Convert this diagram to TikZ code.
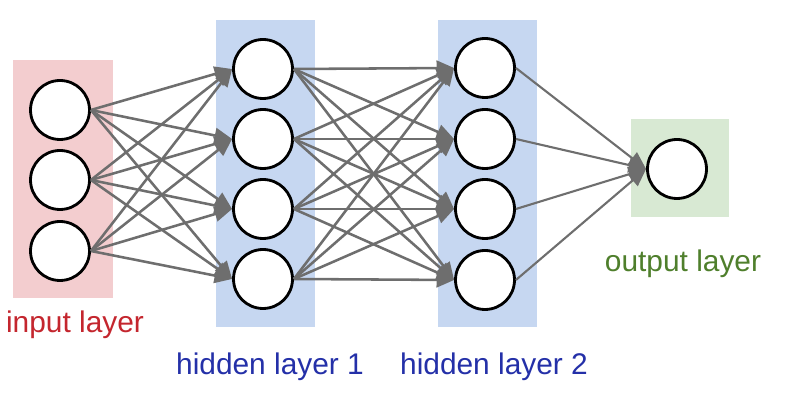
\documentclass[tikz,border=0pt]{standalone}
\usepackage{fontspec}
\setmainfont{Liberation Sans}
\usetikzlibrary{arrows.meta}
\definecolor{inbg}{HTML}{F3CDCF}
\definecolor{hidbg}{HTML}{C6D7F1}
\definecolor{outbg}{HTML}{D8E9D3}
\definecolor{intxt}{HTML}{C4262E}
\definecolor{hidtxt}{HTML}{2430A8}
\definecolor{outtxt}{HTML}{4F7F2C}
\definecolor{wiregray}{HTML}{6E6E6E}
\tikzset{
  neuron/.style={circle,draw=black,line width=1.6pt,fill=white,minimum size=1.18cm,inner sep=0pt},
  wire/.style={-{Triangle[length=10pt,width=8.5pt]},line width=1.45pt,draw=wiregray},
  lbl/.style={font=\fontsize{17}{20}\selectfont,inner sep=0pt}
}
\begin{document}
\begin{tikzpicture}[x=0.02cm,y=-0.02cm]
\useasboundingbox (0,0) rectangle (788,404);
% layer backgrounds
\fill[inbg] (13,60) rectangle (113,298);
\fill[hidbg] (216,20) rectangle (315,327);
\fill[hidbg] (438,20) rectangle (537,327);
\fill[outbg] (631,119) rectangle (729,217);
% neurons
\node[neuron] (i1) at (60,110) {};
\node[neuron] (i2) at (60,180) {};
\node[neuron] (i3) at (60,251) {};
\node[neuron] (a1) at (263,69) {};
\node[neuron] (a2) at (263,139) {};
\node[neuron] (a3) at (263,209) {};
\node[neuron] (a4) at (263,279) {};
\node[neuron] (b1) at (485,68) {};
\node[neuron] (b2) at (485,139) {};
\node[neuron] (b3) at (485,209) {};
\node[neuron] (b4) at (485,280) {};
\node[neuron] (o1) at (677,169) {};
% input -> hidden 1
\draw[wire] (i1.east) -- (a1.west);
\draw[wire] (i1.east) -- (a2.west);
\draw[wire] (i1.east) -- (a3.west);
\draw[wire] (i1.east) -- (a4.west);
\draw[wire] (i2.east) -- (a1.west);
\draw[wire] (i2.east) -- (a2.west);
\draw[wire] (i2.east) -- (a3.west);
\draw[wire] (i2.east) -- (a4.west);
\draw[wire] (i3.east) -- (a1.west);
\draw[wire] (i3.east) -- (a2.west);
\draw[wire] (i3.east) -- (a3.west);
\draw[wire] (i3.east) -- (a4.west);
% hidden 1 -> hidden 2
\draw[wire] (a1.east) -- (b1.west);
\draw[wire] (a1.east) -- (b2.west);
\draw[wire] (a1.east) -- (b3.west);
\draw[wire] (a1.east) -- (b4.west);
\draw[wire] (a2.east) -- (b1.west);
\draw[wire] (a2.east) -- (b2.west);
\draw[wire] (a2.east) -- (b3.west);
\draw[wire] (a2.east) -- (b4.west);
\draw[wire] (a3.east) -- (b1.west);
\draw[wire] (a3.east) -- (b2.west);
\draw[wire] (a3.east) -- (b3.west);
\draw[wire] (a3.east) -- (b4.west);
\draw[wire] (a4.east) -- (b1.west);
\draw[wire] (a4.east) -- (b2.west);
\draw[wire] (a4.east) -- (b3.west);
\draw[wire] (a4.east) -- (b4.west);
% hidden 2 -> output
\draw[wire,line width=1.2pt] (b1.east) -- (o1.west);
\draw[wire,line width=1.2pt] (b2.east) -- (o1.west);
\draw[wire,line width=1.2pt] (b3.east) -- (o1.west);
\draw[wire,line width=1.2pt] (b4.east) -- (o1.west);
% labels
\node[lbl,text=intxt] (inlbl) at (75,325) {input layer};
\node[lbl,text=hidtxt] (h1lbl) at (270,367) {hidden layer 1};
\node[lbl,text=hidtxt] (h2lbl) at (494,367) {hidden layer 2};
\node[lbl,text=outtxt] (outlbl) at (683,264) {output layer};
\end{tikzpicture}
\end{document}
